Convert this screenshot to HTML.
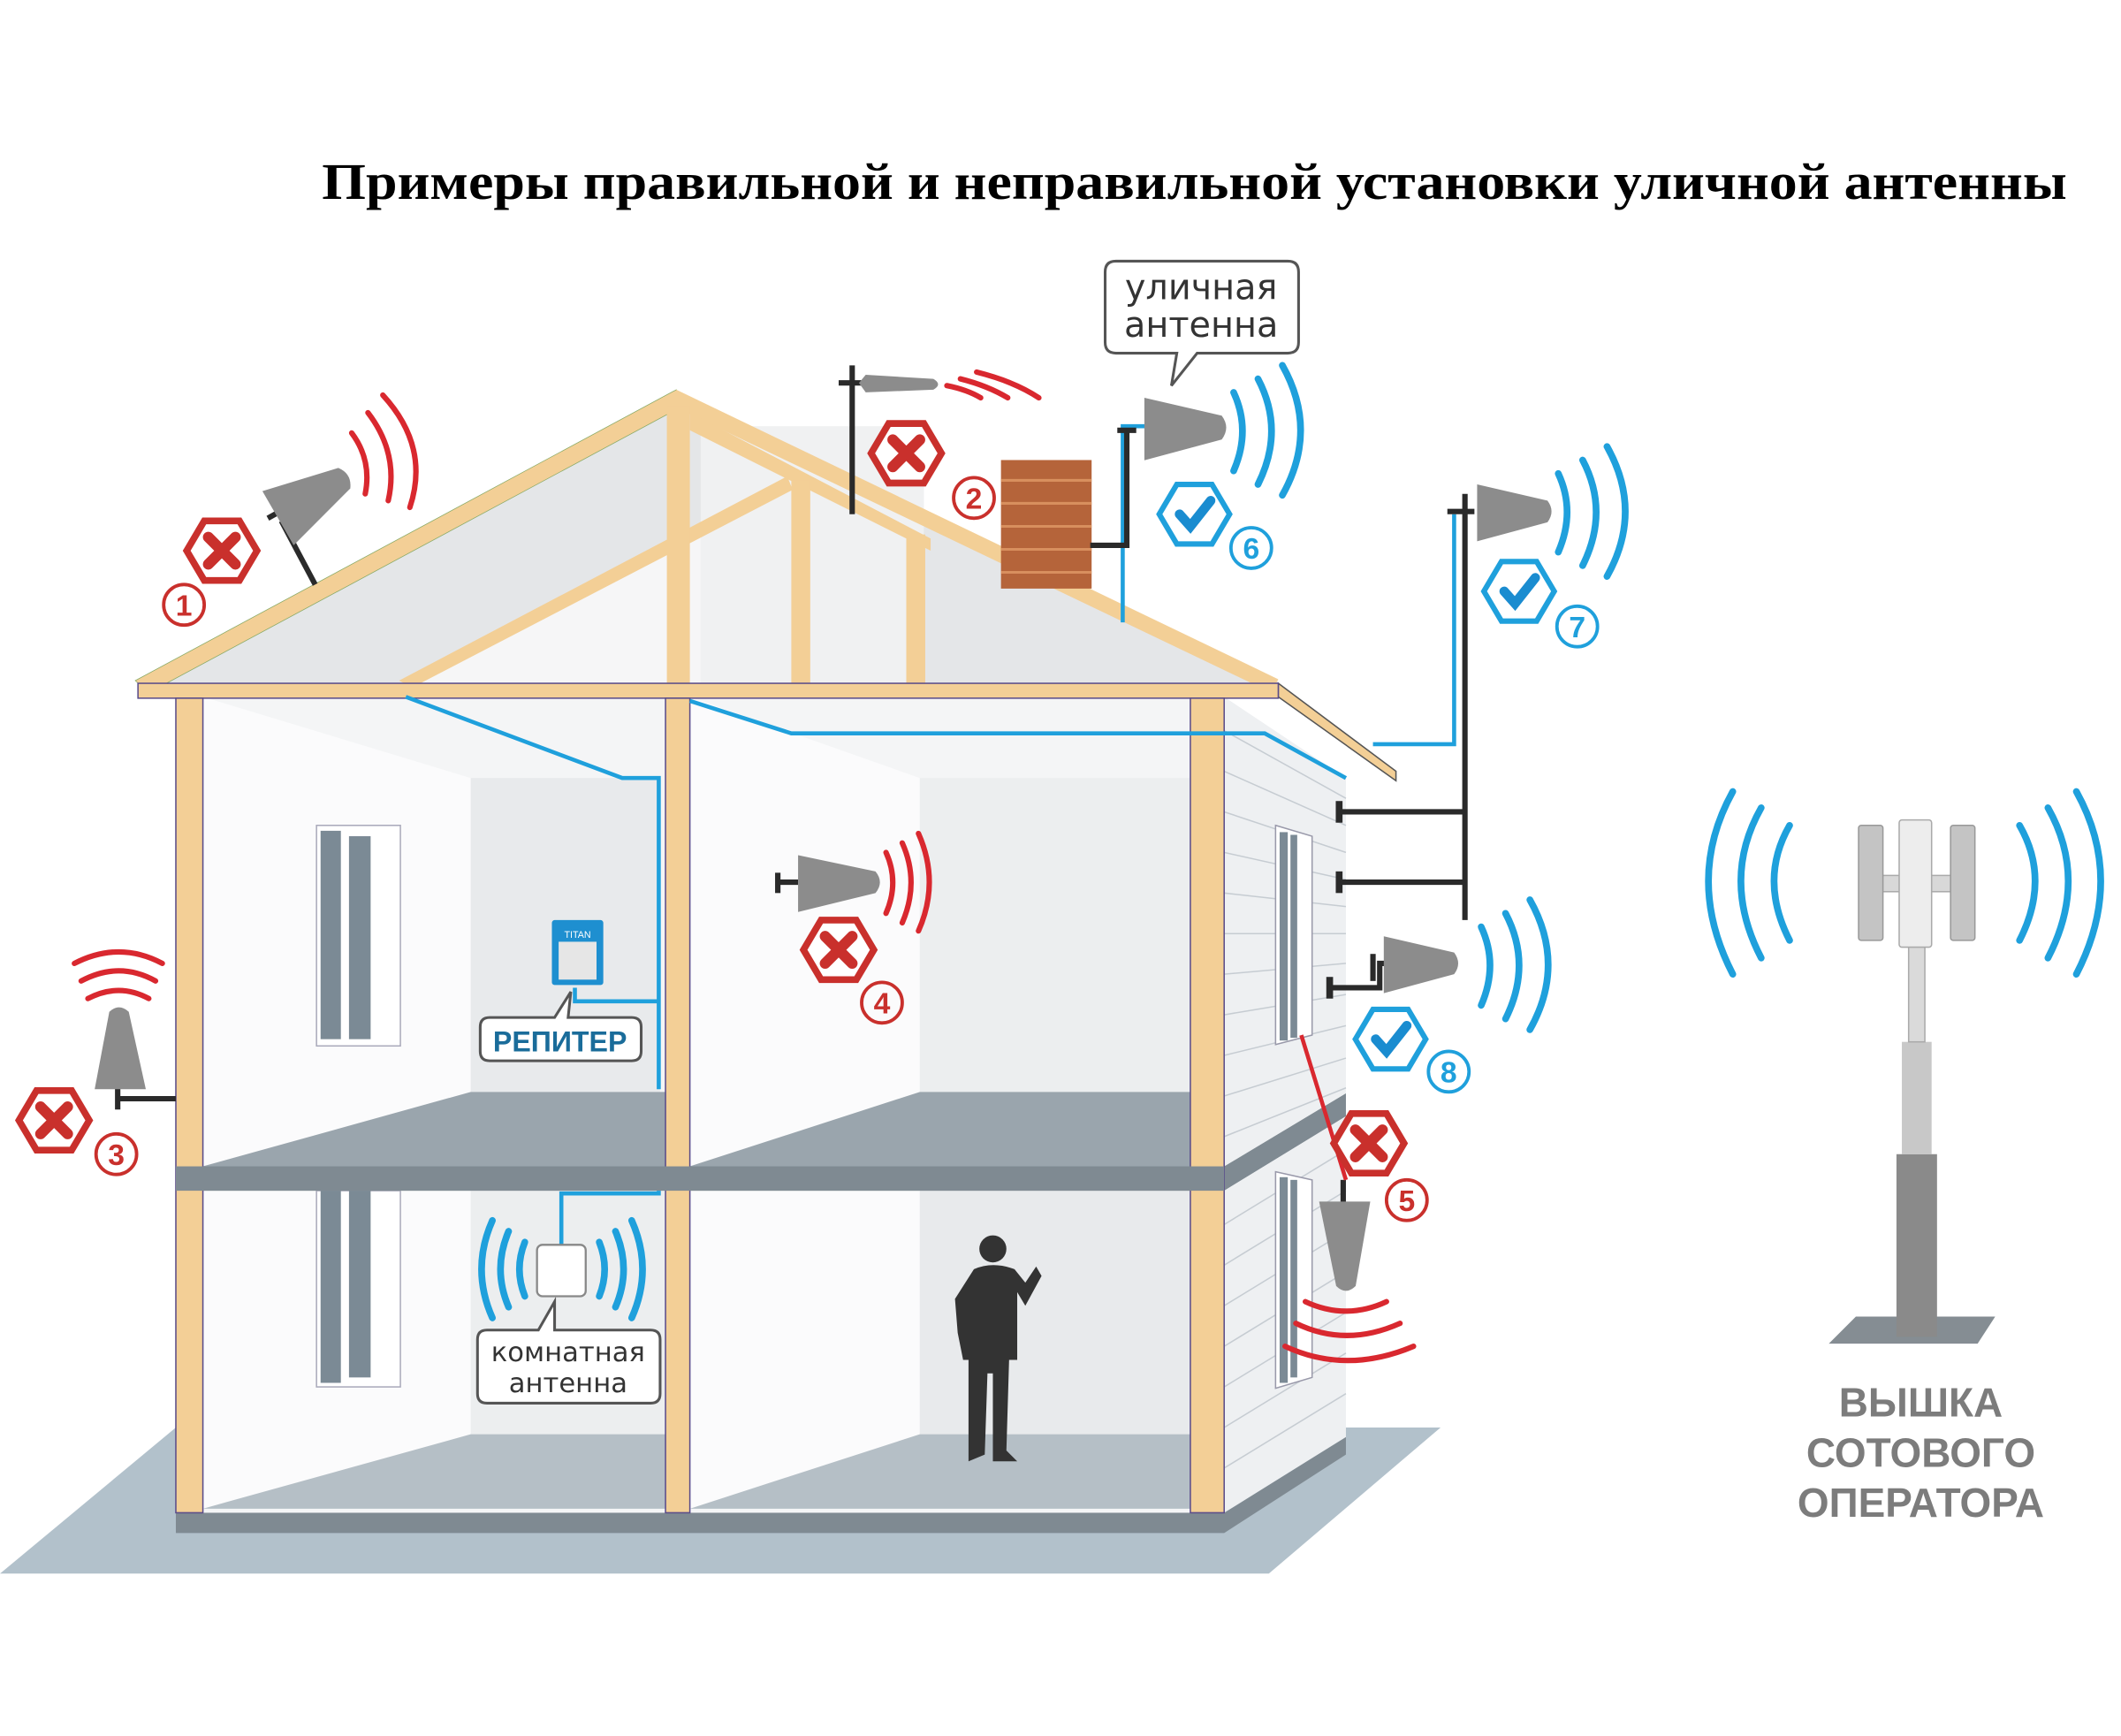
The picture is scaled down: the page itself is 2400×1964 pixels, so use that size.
<!DOCTYPE html>
<html><head><meta charset="utf-8"><style>html,body{margin:0;padding:0;background:#fff}svg{display:block}</style></head>
<body>
<svg width="2400" height="1964" viewBox="0 0 1568 1283" preserveAspectRatio="none" xmlns="http://www.w3.org/2000/svg">
<defs>
<g id="xh"><polygon points="-26,0 -13,-22 13,-22 26,0 13,22 -13,22" fill="#fff" stroke="#c9302c" stroke-width="5"/><path d="M-10,-10 L10,10 M10,-10 L-10,10" stroke="#c9302c" stroke-width="8" stroke-linecap="round"/></g>
<g id="ch"><polygon points="-26,0 -13,-22 13,-22 26,0 13,22 -13,22" fill="#fff" stroke="#1fa0dc" stroke-width="4"/><path d="M-11,0 L-3,9 L12,-10" stroke="#1a8cd0" stroke-width="7" fill="none" stroke-linecap="round"/></g>
<g id="ant"><path d="M0,-20 L52,-8 Q58,0 52,8 L0,22 Z" fill="#8c8c8c"/></g>
</defs>
<rect width="1568" height="1283" fill="#fff"/>
<text x="883" y="147" text-anchor="middle" textLength="1290" lengthAdjust="spacingAndGlyphs" font-family="Liberation Serif, serif" font-weight="bold" font-size="38">Примеры правильной и неправильной установки уличной антенны</text>
<polygon points="0,1163 938,1163 1065,1055 130,1055" fill="#b2c1cb"/>
<polygon points="130,1118 905,1118 995,1062 995,1075 905,1133 130,1133" fill="#7f8a92"/>
<rect x="150" y="515" width="345" height="603" fill="#f4f5f6"/>
<rect x="510" y="515" width="375" height="603" fill="#f4f5f6"/>
<polygon points="150,515 348,575 348,807 150,862" fill="#fbfbfc"/>
<rect x="348" y="575" width="140" height="232" fill="#e8eaec"/>
<polygon points="510,515 680,575 680,807 510,862" fill="#fbfbfc"/>
<rect x="680" y="575" width="200" height="232" fill="#eceeef"/>
<polygon points="150,862 348,807 492,807 492,862" fill="#9aa5ad"/>
<polygon points="510,862 680,807 880,807 880,862" fill="#9aa5ad"/>
<polygon points="150,880 348,880 348,1060 150,1115" fill="#fbfbfc"/>
<rect x="348" y="880" width="144" height="180" fill="#eceeef"/>
<polygon points="510,880 680,880 680,1060 510,1115" fill="#fbfbfc"/>
<rect x="680" y="880" width="200" height="180" fill="#e8eaec"/>
<polygon points="150,1115 348,1060 492,1060 492,1115" fill="#b5bfc6"/>
<polygon points="510,1115 680,1060 880,1060 880,1115" fill="#b5bfc6"/>
<rect x="130" y="862" width="775" height="18" fill="#7f8a92"/>
<polygon points="905,862 995,808 995,825 905,880" fill="#7f8a92"/>
<polygon points="905,515 995,575 995,808 905,862" fill="#eef0f2"/>
<polygon points="905,880 995,825 995,1062 905,1118" fill="#eef0f2"/>
<g stroke="#c6ccd2" stroke-width="1">
<line x1="905" y1="540" x2="995" y2="590"/><line x1="905" y1="570" x2="995" y2="610"/><line x1="905" y1="600" x2="995" y2="630"/><line x1="905" y1="630" x2="995" y2="650"/><line x1="905" y1="660" x2="995" y2="670"/><line x1="905" y1="690" x2="995" y2="690"/><line x1="905" y1="720" x2="995" y2="712"/><line x1="905" y1="750" x2="995" y2="735"/><line x1="905" y1="780" x2="995" y2="758"/><line x1="905" y1="810" x2="995" y2="782"/><line x1="905" y1="840" x2="995" y2="804"/>
<line x1="905" y1="905" x2="995" y2="850"/><line x1="905" y1="935" x2="995" y2="880"/><line x1="905" y1="965" x2="995" y2="910"/><line x1="905" y1="995" x2="995" y2="940"/><line x1="905" y1="1025" x2="995" y2="970"/><line x1="905" y1="1055" x2="995" y2="1000"/><line x1="905" y1="1085" x2="995" y2="1030"/>
</g>
<rect x="234" y="610" width="62" height="163" fill="#fff" stroke="#aab" stroke-width="1"/>
<rect x="237" y="614" width="15" height="154" fill="#7b8a95"/><rect x="258" y="618" width="16" height="150" fill="#7b8a95"/>
<rect x="234" y="880" width="62" height="145" fill="#fff" stroke="#aab" stroke-width="1"/>
<rect x="237" y="880" width="15" height="142" fill="#7b8a95"/><rect x="258" y="880" width="16" height="138" fill="#7b8a95"/>
<polygon points="943,610 970,618 970,765 943,772" fill="#fff" stroke="#99a" stroke-width="1"/>
<rect x="946" y="615" width="6" height="154" fill="#7b8a95"/><rect x="954" y="617" width="5" height="150" fill="#7b8a95"/>
<polygon points="943,866 970,872 970,1018 943,1026" fill="#fff" stroke="#99a" stroke-width="1"/>
<rect x="946" y="870" width="6" height="152" fill="#7b8a95"/><rect x="954" y="872" width="5" height="146" fill="#7b8a95"/>
<polygon points="105,505 500,293 945,505" fill="#e4e6e8"/>
<polygon points="300,505 585,355 585,505" fill="#f6f6f7"/>
<rect x="518" y="315" width="165" height="190" fill="#f0f1f2"/>
<polygon points="945,505 1032,570 1032,577 945,515" fill="#f3cf96" stroke="#555" stroke-width="1"/>
<polygon points="100,503 500,288 505,300 110,512" fill="#f3cf96" stroke="#8a6" stroke-width="0.5"/>
<polygon points="500,288 945,502 940,512 497,300" fill="#f3cf96"/>
<polygon points="295,503 582,352 586,362 305,508" fill="#f3cf96"/>
<polygon points="510,305 688,398 688,407 510,318" fill="#f3cf96"/>
<rect x="493" y="300" width="17" height="215" fill="#f3cf96"/>
<rect x="585" y="355" width="14" height="150" fill="#f3cf96"/>
<rect x="670" y="395" width="14" height="110" fill="#f3cf96"/>
<rect x="102" y="505" width="843" height="11" fill="#f3cf96" stroke="#5a4c8a" stroke-width="1"/>
<rect x="130" y="516" width="20" height="602" fill="#f3cf96" stroke="#5a4c8a" stroke-width="1"/>
<rect x="492" y="516" width="18" height="602" fill="#f3cf96" stroke="#5a4c8a" stroke-width="1"/>
<rect x="880" y="516" width="25" height="602" fill="#f3cf96" stroke="#5a4c8a" stroke-width="1"/>
<rect x="130" y="862" width="775" height="18" fill="#7f8a92"/>
<rect x="740" y="340" width="67" height="95" fill="#b5643a"/>
<g stroke="#d88f5e" stroke-width="2"><line x1="740" y1="355" x2="807" y2="355"/><line x1="740" y1="372" x2="807" y2="372"/><line x1="740" y1="389" x2="807" y2="389"/><line x1="740" y1="406" x2="807" y2="406"/><line x1="740" y1="423" x2="807" y2="423"/></g>
<g stroke="#1fa0dc" stroke-width="3" fill="none">
<polyline points="300,515 460,575 487,575 487,805"/>
<polyline points="425,730 425,740 487,740"/>
<polyline points="415,920 415,882 487,882 487,880"/>
<polyline points="510,518 585,542 935,542 995,575"/>
<polyline points="1015,550 1075,550 1075,380"/>
<polyline points="830,460 830,315 848,315"/>
</g>
<g stroke="#2a2a2a" stroke-width="4" fill="none">
<line x1="1083" y1="365" x2="1083" y2="680"/>
<line x1="990" y1="600" x2="1083" y2="600"/><line x1="990" y1="652" x2="1083" y2="652"/>
<line x1="1070" y1="378" x2="1090" y2="378"/>
<polyline points="983,730 1020,730 1020,712 1027,712"/><line x1="1015" y1="705" x2="1015" y2="725"/>
<line x1="630" y1="270" x2="630" y2="380"/><line x1="620" y1="283" x2="640" y2="283"/>
<polyline points="806,403 833,403 833,318"/><line x1="826" y1="318" x2="840" y2="318"/>
<line x1="208" y1="385" x2="233" y2="432"/><line x1="198" y1="383" x2="216" y2="373"/>
<line x1="87" y1="800" x2="87" y2="820"/><line x1="87" y1="812" x2="130" y2="812"/>
<line x1="575" y1="652" x2="590" y2="652"/><line x1="575" y1="645" x2="575" y2="660"/>
<line x1="993" y1="872" x2="993" y2="890"/>
</g>
<g stroke="#2a2a2a" stroke-width="5"><line x1="990" y1="592" x2="990" y2="608"/><line x1="990" y1="644" x2="990" y2="660"/><line x1="983" y1="722" x2="983" y2="738"/></g>
<use href="#ant" transform="translate(1092,378)"/>
<use href="#ant" transform="translate(846,316) scale(1.1)"/>
<use href="#ant" transform="translate(1023,712)"/>
<use href="#ant" transform="translate(590,652) scale(1.1,1)"/>
<use href="#ant" transform="translate(205,382) rotate(-30) scale(1.1)"/>
<use href="#ant" transform="translate(88,805) rotate(-90) scale(1.1,0.9)"/>
<use href="#ant" transform="translate(995,888) rotate(90) scale(1.2,0.9)"/>
<path d="M635,283 L640,277 L690,280 Q697,284 690,288 L640,290 Z" fill="#8c8c8c"/>
<g fill="none" stroke="#1fa0dc" stroke-width="5" stroke-linecap="round">
<path d="M912,290 Q925,318 912,348"/><path d="M930,280 Q950,318 930,358"/><path d="M948,270 Q975,318 948,366"/>
<path d="M1152,350 Q1165,378 1152,408"/><path d="M1170,340 Q1190,378 1170,418"/><path d="M1188,330 Q1215,378 1188,426"/>
<path d="M1095,685 Q1108,713 1095,743"/><path d="M1113,675 Q1133,713 1113,753"/><path d="M1131,665 Q1158,713 1131,761"/>
<path d="M1323,610 Q1300,650 1323,695"/><path d="M1302,597 Q1272,650 1302,708"/><path d="M1281,585 Q1245,650 1281,720"/>
<path d="M1493,610 Q1516,650 1493,695"/><path d="M1514,597 Q1544,650 1514,708"/><path d="M1535,585 Q1571,650 1535,720"/>
<path d="M388,918 Q380,938 388,958"/><path d="M376,910 Q364,938 376,966"/><path d="M364,902 Q348,938 364,974"/>
<path d="M443,918 Q451,938 443,958"/><path d="M455,910 Q467,938 455,966"/><path d="M467,902 Q483,938 467,974"/>
</g>
<g fill="none" stroke="#d9282f" stroke-width="4" stroke-linecap="round">
<path d="M260,320 Q275,340 270,365"/><path d="M272,305 Q295,335 287,370"/><path d="M283,292 Q318,330 303,375"/>
<path d="M655,630 Q665,652 655,675"/><path d="M667,623 Q680,652 667,682"/><path d="M679,616 Q695,652 679,688"/>
<path d="M700,285 Q715,288 725,294"/><path d="M710,280 Q730,285 745,294"/><path d="M722,275 Q750,282 768,294"/>
<path d="M65,738 Q88,726 110,738"/><path d="M60,725 Q88,710 115,725"/><path d="M55,712 Q88,695 120,712"/>
<path d="M965,962 Q995,976 1025,962"/><path d="M958,978 Q995,996 1035,978"/><path d="M950,995 Q995,1016 1045,995"/>
</g>
<line x1="962" y1="765" x2="995" y2="872" stroke="#d9282f" stroke-width="3"/>
<use href="#xh" transform="translate(164,407)"/>
<use href="#xh" transform="translate(670,335)"/>
<use href="#xh" transform="translate(40,828)"/>
<use href="#xh" transform="translate(620,702)"/>
<use href="#xh" transform="translate(1012,845)"/>
<use href="#ch" transform="translate(883,380)"/>
<use href="#ch" transform="translate(1123,437)"/>
<use href="#ch" transform="translate(1028,768)"/>
<g font-family="Liberation Sans, sans-serif" font-weight="bold" font-size="22" text-anchor="middle">
<g fill="none" stroke-width="2.5" stroke="#c9302c"><circle cx="136" cy="447" r="15"/><circle cx="720" cy="368" r="15"/><circle cx="86" cy="853" r="15"/><circle cx="652" cy="741" r="15"/><circle cx="1040" cy="887" r="15"/></g>
<g fill="#c9302c"><text x="136" y="455">1</text><text x="720" y="376">2</text><text x="86" y="861">3</text><text x="652" y="749">4</text><text x="1040" y="895">5</text></g>
<g fill="none" stroke-width="2.5" stroke="#1fa0dc"><circle cx="925" cy="405" r="15"/><circle cx="1166" cy="463" r="15"/><circle cx="1071" cy="792" r="15"/></g>
<g fill="#1fa0dc"><text x="925" y="413">6</text><text x="1166" y="471">7</text><text x="1071" y="800">8</text></g>
</g>
<path d="M825,193 H952 Q960,193 960,201 V253 Q960,261 952,261 H885 L866,285 L870,261 H825 Q817,261 817,253 V201 Q817,193 825,193 Z" fill="#fff" stroke="#555" stroke-width="2"/>
<text x="888" y="221" text-anchor="middle" font-family="DejaVu Sans, sans-serif" font-size="26" fill="#333">уличная</text>
<text x="888" y="249" text-anchor="middle" font-family="DejaVu Sans, sans-serif" font-size="26" fill="#333">антенна</text>
<path d="M362,752 H410 L422,733 L420,752 H467 Q474,752 474,759 V777 Q474,784 467,784 H362 Q355,784 355,777 V759 Q355,752 362,752 Z" fill="#fff" stroke="#555" stroke-width="2"/>
<text x="414" y="777" text-anchor="middle" font-family="Liberation Sans, sans-serif" font-weight="bold" font-size="21" fill="#1a6c9a">РЕПИТЕР</text>
<path d="M360,983 H398 L410,962 L410,983 H481 Q488,983 488,990 V1030 Q488,1037 481,1037 H360 Q353,1037 353,1030 V990 Q353,983 360,983 Z" fill="#fff" stroke="#555" stroke-width="2"/>
<text x="420" y="1006" text-anchor="middle" font-family="DejaVu Sans, sans-serif" font-size="20" fill="#333">комнатная</text>
<text x="420" y="1029" text-anchor="middle" font-family="DejaVu Sans, sans-serif" font-size="20" fill="#333">антенна</text>
<rect x="408" y="680" width="38" height="48" rx="2" fill="#1e8fd0"/>
<rect x="413" y="696" width="28" height="28" fill="#e6e6e6"/>
<text x="427" y="693" text-anchor="middle" font-family="Liberation Sans, sans-serif" font-size="7" fill="#fff">TITAN</text>
<rect x="397" y="920" width="36" height="38" rx="4" fill="#fff" stroke="#888" stroke-width="1.5"/>
<g fill="#333">
<circle cx="734" cy="923" r="10"/>
<path d="M720,938 Q734,932 750,938 L758,948 L766,936 L770,943 L758,965 L752,955 L752,1005 L746,1005 L744,1072 L752,1080 L734,1080 L734,1015 L730,1015 L728,1075 L716,1080 L716,1005 L712,1005 L708,985 L706,960 Z"/>
</g>
<polygon points="1372,973 1475,973 1462,993 1352,993" fill="#858d93"/>
<rect x="1402" y="853" width="30" height="135" fill="#8a8a8a"/>
<rect x="1406" y="770" width="22" height="83" fill="#c8c8c8"/>
<rect x="1411" y="690" width="12" height="80" fill="#dadada" stroke="#aaa" stroke-width="1"/>
<rect x="1388" y="647" width="60" height="12" fill="#d8d8d8" stroke="#aaa" stroke-width="1"/>
<rect x="1374" y="610" width="18" height="85" rx="2" fill="#c4c4c4" stroke="#999" stroke-width="1"/>
<rect x="1442" y="610" width="18" height="85" rx="2" fill="#c4c4c4" stroke="#999" stroke-width="1"/>
<rect x="1404" y="606" width="24" height="94" rx="2" fill="#ededed" stroke="#aaa" stroke-width="1"/>
<g font-family="Liberation Sans, sans-serif" font-weight="bold" font-size="30" fill="#7c7c7c" text-anchor="middle">
<text x="1420" y="1047">ВЫШКА</text><text x="1420" y="1084">СОТОВОГО</text><text x="1420" y="1121">ОПЕРАТОРА</text>
</g>
</svg>
</body></html>
